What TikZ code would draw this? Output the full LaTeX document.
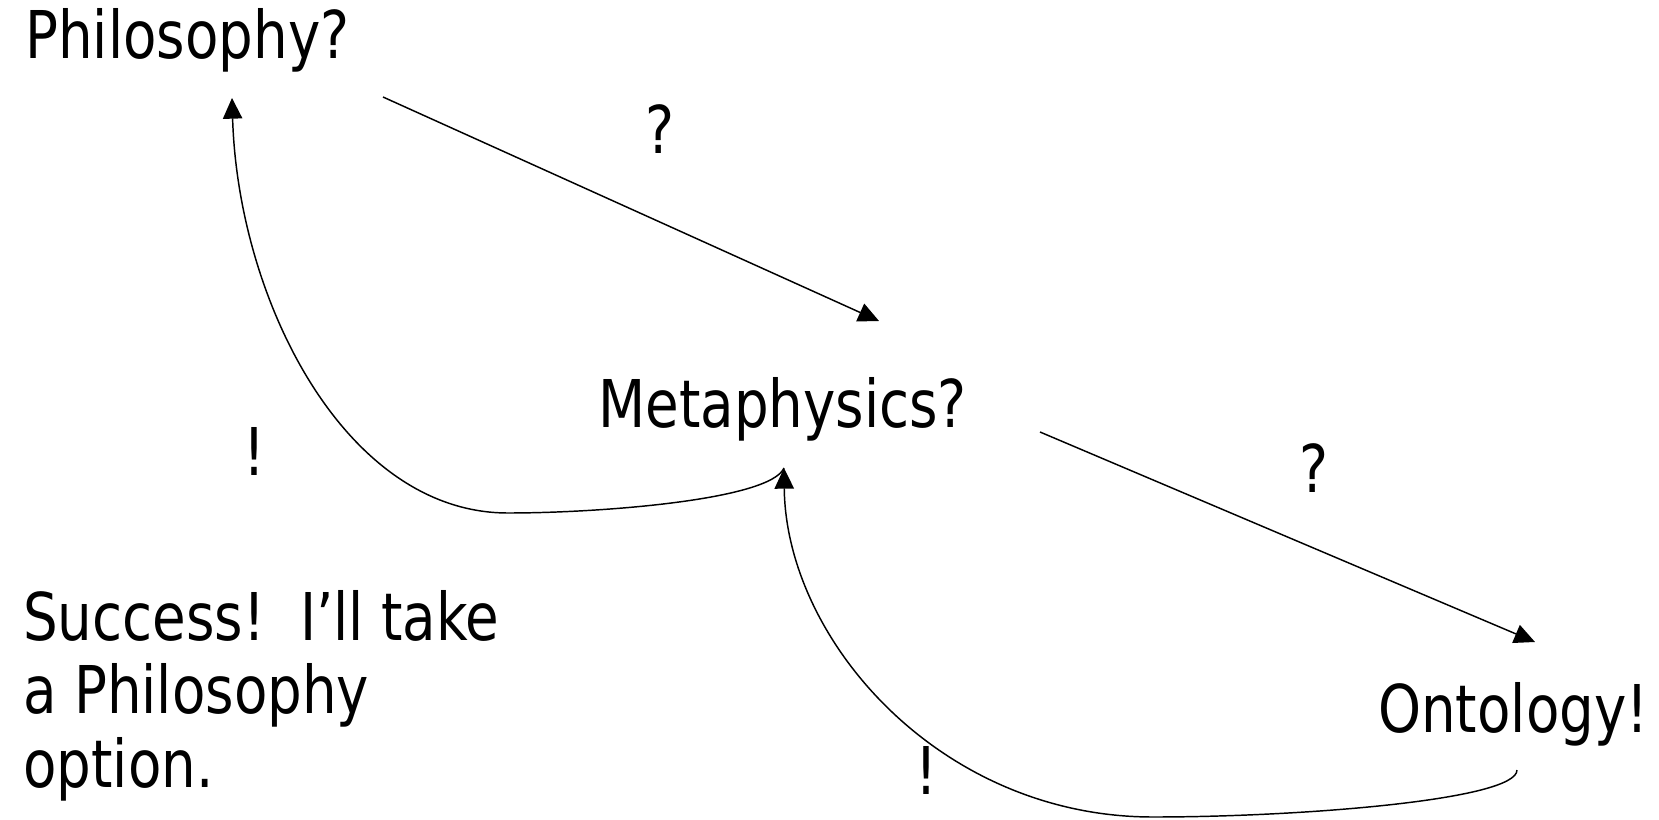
\documentclass[tikz,border=0pt]{standalone}
\usepackage{fontspec}
\setmainfont[FakeStretch=0.83]{DejaVu Sans}
\usetikzlibrary{arrows.meta}
\begin{document}
\begin{tikzpicture}[x=0.75pt,y=-0.75pt,
  lbl/.style={inner sep=0pt,anchor=base west,font=\fontsize{49.4}{55}\selectfont},
  sign/.style={inner sep=0pt,anchor=base,font=\fontsize{49.4}{55}\selectfont},
  conn/.style={line width=1.1pt,-{Triangle[length=15.5pt,width=14.5pt]}}]
\useasboundingbox (0,0) rectangle (1659,820);
\node[lbl] (phil) at (25,59) {Philosophy?};
\node[lbl] (meta) at (598,427) {Metaphysics?};
\node[lbl] (onto) at (1378,732) {Ontology!};
\node[lbl,align=left] (succ) at (23,787) {Success!\ \ I’ll take\\a Philosophy\\option.};
\node[sign] (q1) at (660,154) {?};
\node[sign] (q2) at (1314,492) {?};
\node[sign] (e1) at (254,475) {!};
\node[sign] (e2) at (926,794) {!};
\coordinate (philout) at (383,97);
\coordinate (philin) at (232,98);
\coordinate (metain) at (879,321);
\coordinate (metaout) at (1040,432);
\coordinate (metabot) at (784,468);
\coordinate (ontoin) at (1535,642);
\coordinate (ontobot) at (1517,770);
\coordinate (low1) at (508,513);
\coordinate (low2) at (1153,817);
\draw[conn] (philout) -- (metain);
\draw[conn] (metaout) -- (ontoin);
\draw[conn] (metabot) .. controls (770,500) and (600,513) .. (low1)
  .. controls (345,513) and (238,300) .. (philin);
\draw[conn] (ontobot) .. controls (1517,800) and (1300,817) .. (low2)
  .. controls (940,817) and (786,640) .. (metabot);
\end{tikzpicture}
\end{document}
